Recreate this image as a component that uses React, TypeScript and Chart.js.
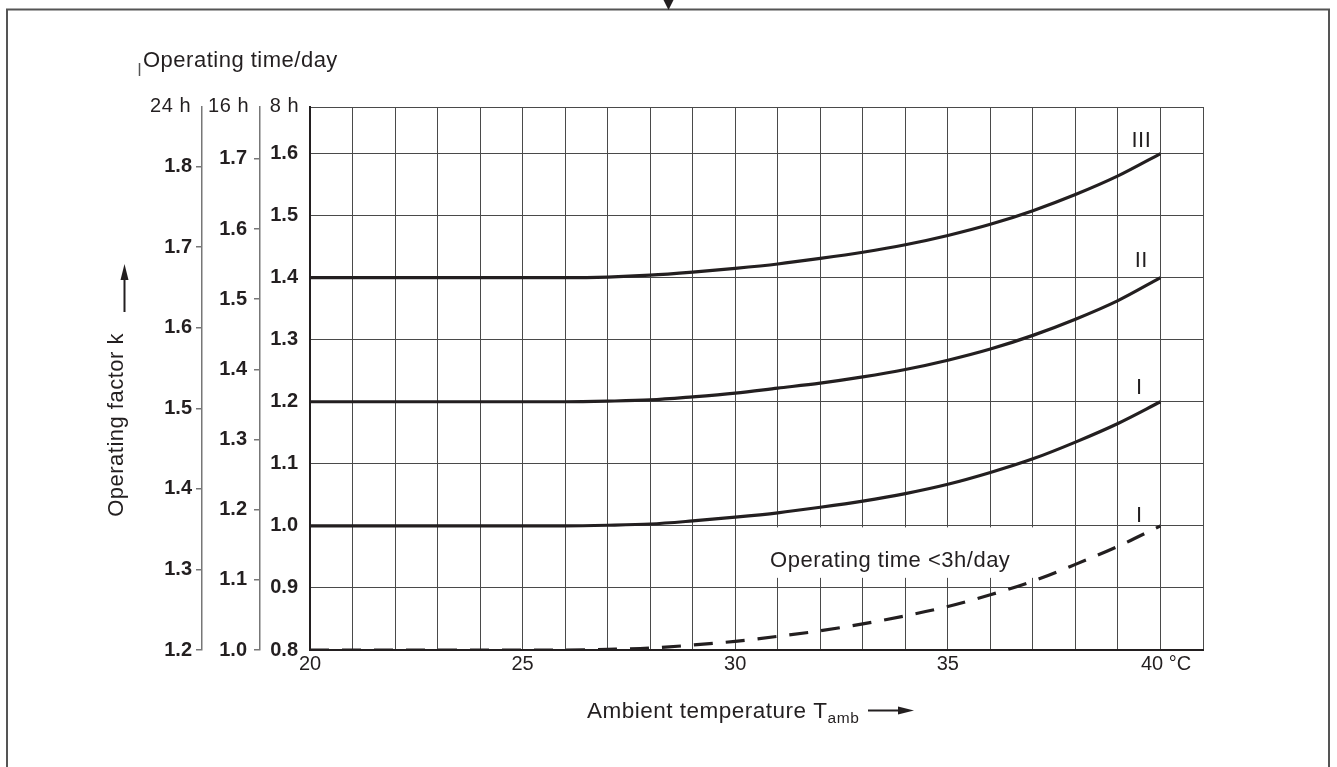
import React, { useEffect, useRef } from 'react';
import { Chart, registerables } from 'chart.js';

Chart.register(...registerables);

// ---- data ----
const TEMPS = [20, 22, 24, 26, 27, 28, 29, 30, 31, 32, 33, 34, 35, 36, 37, 38, 39, 40];
const K_III = [1.4, 1.4, 1.4, 1.4, 1.401, 1.404, 1.409, 1.415, 1.422, 1.431, 1.441, 1.453, 1.468, 1.486, 1.508, 1.534, 1.564, 1.6];
const K_II = [1.2, 1.2, 1.2, 1.2, 1.201, 1.203, 1.208, 1.214, 1.222, 1.23, 1.24, 1.252, 1.267, 1.285, 1.307, 1.333, 1.363, 1.4];
const K_I = [1.0, 1.0, 1.0, 1.0, 1.001, 1.003, 1.008, 1.014, 1.021, 1.03, 1.04, 1.052, 1.067, 1.086, 1.108, 1.135, 1.165, 1.2];
const K_SHORT = [0.8, 0.8, 0.8, 0.8, 0.801, 0.803, 0.808, 0.814, 0.822, 0.831, 0.842, 0.855, 0.87, 0.889, 0.911, 0.938, 0.967, 1.0];

const X_TICKS = [20, 21, 22, 23, 24, 25, 26, 27, 28, 29, 30, 31, 32, 33, 34, 35, 36, 37, 38, 39, 40, 41];
const X_LABELED = [20, 25, 30, 35, 40];
const X_LABEL_TEXT = ['20', '25', '30', '35', '  40 °C'];
const Y8_TICKS = [0.8, 0.9, 1.0, 1.1, 1.2, 1.3, 1.4, 1.5, 1.6, 1.675];
const Y16_TICKS = [1.0, 1.1, 1.2, 1.3, 1.4, 1.5, 1.6, 1.7];
const Y24_TICKS = [1.2, 1.3, 1.4, 1.5, 1.6, 1.7, 1.8];

const CURVE_LABELS = ['III', 'II', 'I', 'I'];
const CURVE_LABEL_T = [39.55, 39.55, 39.5, 39.5];
const CURVE_LABEL_K = [1.621, 1.427, 1.222, 1.016];

const NOTE_TEXT = 'Operating time <3h/day';
const NOTE_T = 36.47;
const NOTE_K = 0.934;

const INK = '#231f20';
const GRID = '#4a4a4a';
const FONT = '"Liberation Sans", Arial, Helvetica, sans-serif';

function pts(ys: number[]) {
  return TEMPS.map((t, i) => ({ x: t, y: ys[i] }));
}

function setTicks(list: number[]) {
  return (scale: any) => {
    scale.ticks = list.map((v) => ({ value: v }));
  };
}

export default function App() {
  const ref = useRef<HTMLCanvasElement>(null);

  useEffect(() => {
    const canvas = ref.current;
    if (!canvas) return;

    const decor = {
      id: 'decor',
      beforeDatasetsDraw(chart: any) {
        const { ctx, scales } = chart;
        const x = scales.x;
        const y = scales.y8;
        ctx.save();
        ctx.font = `22px ${FONT}`;
        (ctx as any).letterSpacing = '0.5px';
        const w = ctx.measureText(NOTE_TEXT).width;
        const right = x.getPixelForValue(NOTE_T);
        const top = y.getPixelForValue(1.0) + 1.5;
        const bottom = y.getPixelForValue(NOTE_K) + 11;
        ctx.fillStyle = '#ffffff';
        ctx.fillRect(right - w - 14, top, w + 48, bottom - top);
        ctx.restore();
      },
      afterDraw(chart: any) {
        const { ctx, scales } = chart;
        const x = scales.x;
        const y8 = scales.y8;
        const y16 = scales.y16;
        const y24 = scales.y24;
        ctx.save();

        // outer frame
        ctx.strokeStyle = '#555555';
        ctx.lineWidth = 2;
        ctx.beginPath();
        ctx.moveTo(7, 767);
        ctx.lineTo(7, 9.5);
        ctx.lineTo(1329, 9.5);
        ctx.lineTo(1329, 767);
        ctx.stroke();

        // top marker
        ctx.fillStyle = INK;
        ctx.beginPath();
        ctx.moveTo(663.5, 0);
        ctx.lineTo(673.5, 0);
        ctx.lineTo(668.5, 10);
        ctx.closePath();
        ctx.fill();

        (ctx as any).letterSpacing = '0.5px';

        // "Operating time/day"
        ctx.fillStyle = INK;
        ctx.font = `22px ${FONT}`;
        ctx.textAlign = 'left';
        ctx.textBaseline = 'alphabetic';
        ctx.fillText('Operating time/day', 143, 67);
        ctx.strokeStyle = '#555555';
        ctx.lineWidth = 1.5;
        ctx.beginPath();
        ctx.moveTo(139.5, 63);
        ctx.lineTo(139.5, 76);
        ctx.stroke();

        // unit headers
        ctx.font = `20px ${FONT}`;
        ctx.textAlign = 'right';
        ctx.fillText('24 h', y24.right - 11, 112);
        ctx.fillText('16 h', y16.right - 11, 112);
        ctx.fillText('8 h', y8.right - 11, 112);

        // y title
        ctx.font = `22px ${FONT}`;
        ctx.save();
        ctx.translate(123, 333);
        ctx.rotate(-Math.PI / 2);
        ctx.textAlign = 'right';
        ctx.textBaseline = 'alphabetic';
        ctx.fillText('Operating factor k', 0, 0);
        ctx.restore();
        // y arrow
        ctx.strokeStyle = INK;
        ctx.lineWidth = 2;
        ctx.beginPath();
        ctx.moveTo(124.5, 312);
        ctx.lineTo(124.5, 276);
        ctx.stroke();
        ctx.beginPath();
        ctx.moveTo(124.5, 264);
        ctx.lineTo(120.5, 280);
        ctx.lineTo(128.5, 280);
        ctx.closePath();
        ctx.fill();

        // x title
        ctx.textAlign = 'left';
        ctx.textBaseline = 'alphabetic';
        ctx.font = `22.5px ${FONT}`;
        const main = 'Ambient temperature T';
        const x0 = 587;
        ctx.fillText(main, x0, 718);
        const mw = ctx.measureText(main).width;
        ctx.font = `15.5px ${FONT}`;
        ctx.fillText('amb', x0 + mw, 723);
        // x arrow
        ctx.beginPath();
        ctx.moveTo(868, 710.5);
        ctx.lineTo(902, 710.5);
        ctx.stroke();
        ctx.beginPath();
        ctx.moveTo(914, 710.5);
        ctx.lineTo(898, 706.5);
        ctx.lineTo(898, 714.5);
        ctx.closePath();
        ctx.fill();

        // curve labels
        ctx.font = `22px ${FONT}`;
        ctx.textAlign = 'center';
        ctx.textBaseline = 'middle';
        CURVE_LABELS.forEach((lab, i) => {
          ctx.fillText(lab, x.getPixelForValue(CURVE_LABEL_T[i]), y8.getPixelForValue(CURVE_LABEL_K[i]));
        });

        // note
        ctx.textAlign = 'right';
        ctx.textBaseline = 'alphabetic';
        ctx.fillText(NOTE_TEXT, x.getPixelForValue(NOTE_T), y8.getPixelForValue(NOTE_K));

        ctx.restore();
      },
    };

    const lineDs = (label: string, ys: number[], dash: number[] = []) => ({
      label,
      data: pts(ys),
      borderColor: INK,
      backgroundColor: INK,
      borderWidth: 3.2,
      borderDash: dash,
      pointRadius: 0,
      fill: false,
      cubicInterpolationMode: 'monotone' as const,
      xAxisID: 'x',
      yAxisID: 'y8',
    });

    const chart = new Chart(canvas, {
      type: 'line',
      data: {
        datasets: [
          lineDs('III', K_III),
          lineDs('II', K_II),
          lineDs('I', K_I),
          lineDs('I <3h', K_SHORT, [19, 13]),
        ],
      },
      options: {
        animation: false,
        responsive: false,
        devicePixelRatio: 1,
        layout: { padding: { left: 140, top: 107, right: 134, bottom: 77 } },
        plugins: { legend: { display: false }, tooltip: { enabled: false } },
        scales: {
          x: {
            type: 'linear',
            position: 'bottom',
            min: 20,
            max: 41,
            bounds: 'data',
            afterBuildTicks: setTicks(X_TICKS),
            afterFit: (s: any) => {
              s.height = 40;
            },
            grid: { color: GRID, lineWidth: 1, drawTicks: false },
            border: { display: true, color: INK, width: 2 },
            ticks: {
              autoSkip: false,
              maxRotation: 0,
              padding: 2,
              color: INK,
              font: { family: FONT, size: 20, lineHeight: 1.2 },
              callback: (v: any) => {
                const i = X_LABELED.indexOf(Number(v));
                return i >= 0 ? X_LABEL_TEXT[i] : '';
              },
            },
          },
          y8: {
            type: 'linear',
            position: 'left',
            weight: 0,
            min: 0.8,
            max: 1.675,
            bounds: 'data',
            afterBuildTicks: setTicks(Y8_TICKS),
            afterFit: (s: any) => {
              s.width = 50;
            },
            grid: { color: GRID, lineWidth: 1, drawTicks: false },
            border: { display: true, color: INK, width: 2 },
            ticks: {
              autoSkip: false,
              padding: 12,
              color: INK,
              font: { family: FONT, size: 20, weight: 'bold' },
              callback: (v: any) => (Number(v) > 1.65 ? '' : Number(v).toFixed(1)),
            },
          },
          y16: {
            type: 'linear',
            position: 'left',
            weight: 1,
            min: 1.0,
            max: 1.774,
            bounds: 'data',
            afterBuildTicks: setTicks(Y16_TICKS),
            afterFit: (s: any) => {
              s.width = 58;
            },
            grid: { drawOnChartArea: false, drawTicks: true, tickLength: 6, color: '#777777', lineWidth: 1.5 },
            border: { display: true, color: '#777777', width: 1.5 },
            ticks: {
              autoSkip: false,
              padding: 7,
              color: INK,
              font: { family: FONT, size: 20, weight: 'bold' },
              callback: (v: any) => Number(v).toFixed(1),
            },
          },
          y24: {
            type: 'linear',
            position: 'left',
            weight: 2,
            min: 1.2,
            max: 1.874,
            bounds: 'data',
            afterBuildTicks: setTicks(Y24_TICKS),
            afterFit: (s: any) => {
              s.width = 62;
            },
            grid: { drawOnChartArea: false, drawTicks: true, tickLength: 6, color: '#777777', lineWidth: 1.5 },
            border: { display: true, color: '#777777', width: 1.5 },
            ticks: {
              autoSkip: false,
              padding: 4,
              color: INK,
              font: { family: FONT, size: 20, weight: 'bold' },
              callback: (v: any) => Number(v).toFixed(1),
            },
          },
        },
      },
      plugins: [decor],
    } as any);

    return () => {
      chart.destroy();
    };
  }, []);

  return (
    <div style={{ position: 'absolute', left: 0, top: 0, width: 1337, height: 767, background: '#ffffff' }}>
      <canvas ref={ref} width={1337} height={767} style={{ display: 'block', width: 1337, height: 767 }} />
    </div>
  );
}
